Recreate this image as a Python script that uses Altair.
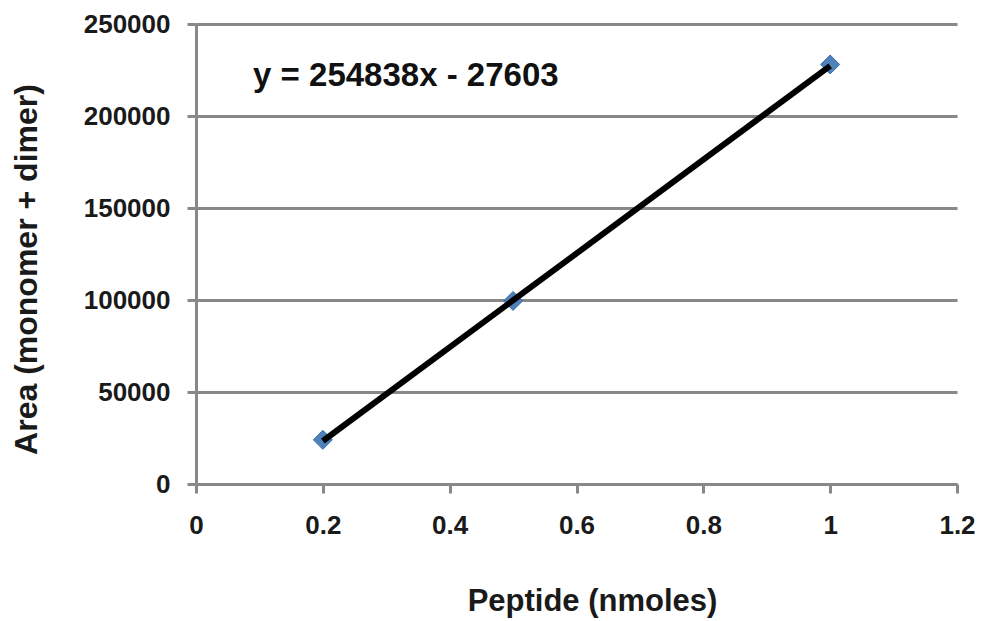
import altair as alt
import pandas as pd

peptide = [0.2, 0.5, 1.0]
area = [24000, 99500, 228000]
slope = 254838
intercept = -27603
eq_text = ["y = 254838x - 27603"]
eq_x = [0.09]
eq_y = [222000]

pts = pd.DataFrame({"x": peptide, "y": area})
fit = pd.DataFrame({"x": [min(peptide), max(peptide)]})
fit["y"] = slope * fit["x"] + intercept
eq = pd.DataFrame({"x": eq_x, "y": eq_y, "t": eq_text})

FONT = "Liberation Sans"
GRID = "#888888"

xscale = alt.Scale(domain=[0, 1.2], nice=False)
yscale = alt.Scale(domain=[0, 250000], nice=False)

xaxis = alt.Axis(
    title="Peptide (nmoles)", values=[0, 0.2, 0.4, 0.6, 0.8, 1.0, 1.2],
    labelExpr="datum.value == 0 ? '0' : datum.value == 1 ? '1' : format(datum.value, '.1f')",
    grid=False, domainColor=GRID, domainWidth=3, tickColor=GRID, tickWidth=3, tickSize=9,
    labelFont=FONT, labelFontSize=26, labelFontWeight="bold", labelColor="#1a1a1a",
    labelPadding=19, labelBaseline="top", labelFlush=False, labelOverlap=False,
    titleFont=FONT, titleFontSize=31, titleFontWeight="bold", titleColor="#1a1a1a",
    titleX=396, titleY=126, titleBaseline="alphabetic", titleAlign="center",
)
yaxis = alt.Axis(
    title="Area (monomer + dimer)", values=[0, 50000, 100000, 150000, 200000, 250000],
    format="d", grid=True, gridColor=GRID, gridWidth=3,
    domainColor=GRID, domainWidth=3, tickColor=GRID, tickWidth=3, tickSize=9,
    labelFont=FONT, labelFontSize=26, labelFontWeight="bold", labelColor="#1a1a1a",
    labelPadding=17, labelFlush=False, labelOverlap=False,
    titleFont=FONT, titleFontSize=32, titleFontWeight="bold", titleColor="#1a1a1a",
    titleX=-170, titleY=245, titleBaseline="middle", titleAlign="center", titleAngle=-90,
)

points = alt.Chart(pts).mark_point(
    shape="diamond", filled=True, size=360, color="#4F81BD", stroke="#3A6AA5", strokeWidth=1, opacity=1
).encode(x=alt.X("x:Q", scale=xscale, axis=xaxis), y=alt.Y("y:Q", scale=yscale, axis=yaxis))

line = alt.Chart(fit).mark_line(color="black", strokeWidth=6).encode(
    x=alt.X("x:Q", scale=xscale), y=alt.Y("y:Q", scale=yscale)
)

label = alt.Chart(eq).mark_text(
    align="left", baseline="middle", font=FONT, fontSize=33, fontWeight="bold", color="#111111"
).encode(x=alt.X("x:Q", scale=xscale), y=alt.Y("y:Q", scale=yscale), text="t:N")

chart = (points + line + label).properties(
    width=761, height=460,
    autosize=alt.AutoSizeParams(type="none"),
    padding={"left": 196, "top": 24, "right": 25, "bottom": 137},
    background="white",
).configure_view(stroke=None)

chart.save("out.html", embed_options={"renderer": "svg", "actions": False})
